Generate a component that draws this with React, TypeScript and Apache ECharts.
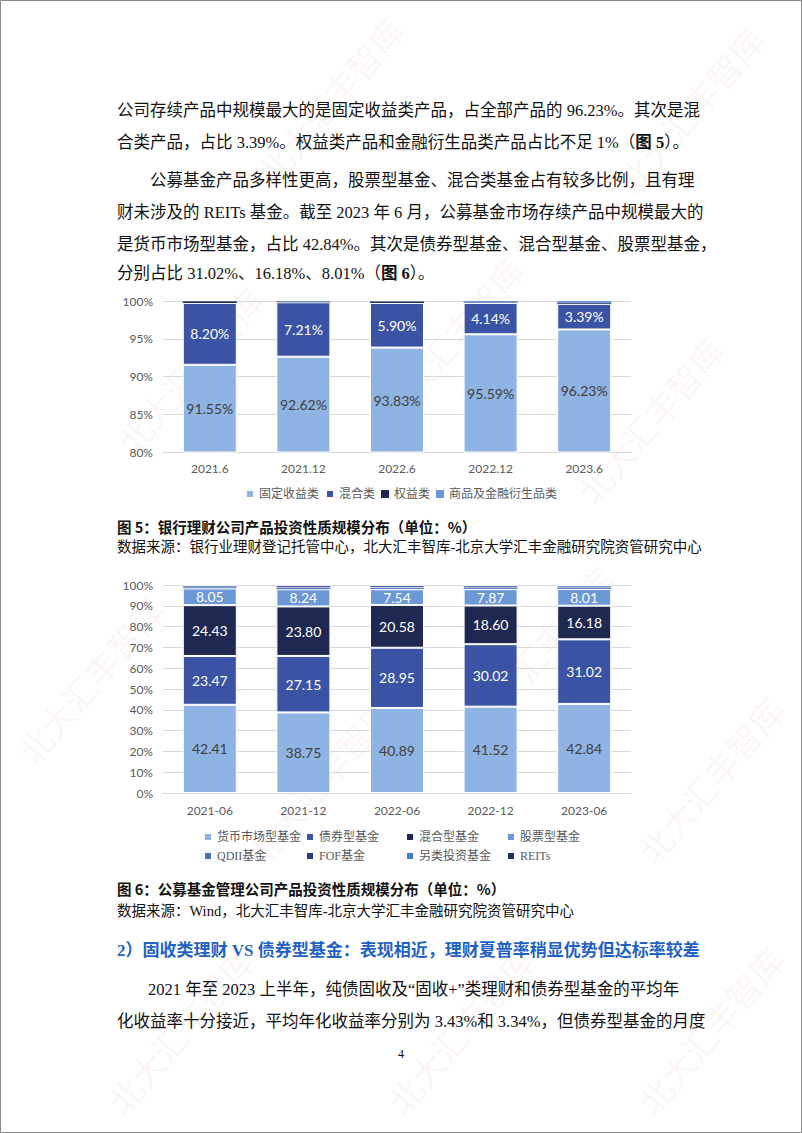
import React, { useEffect, useRef } from 'react';
import * as echarts from 'echarts';

// ---------- Chart 1 data (图 5) ----------
const categories1 = ['2021.6', '2021.12', '2022.6', '2022.12', '2023.6'];
const fixedIncome = [91.55, 92.62, 93.83, 95.59, 96.23];
const mixed1 = [8.2, 7.21, 5.9, 4.14, 3.39];
const equity1 = [0.22, 0.12, 0.22, 0.08, 0.1];
const commodity1 = [0.03, 0.05, 0.05, 0.19, 0.28];
const yTicks1 = [80, 85, 90, 95, 100];

// ---------- Chart 2 data (图 6) ----------
const categories2 = ['2021-06', '2021-12', '2022-06', '2022-12', '2023-06'];
const moneyMarket = [42.41, 38.75, 40.89, 41.52, 42.84];
const bond = [23.47, 27.15, 28.95, 30.02, 31.02];
const hybrid = [24.43, 23.8, 20.58, 18.6, 16.18];
const stock = [8.05, 8.24, 7.54, 7.87, 8.01];
const qdii = [0.77, 0.93, 0.96, 0.95, 0.98];
const fof = [0.62, 0.83, 0.74, 0.67, 0.61];
const alternative = [0.12, 0.15, 0.14, 0.14, 0.13];
const reits = [0.13, 0.15, 0.2, 0.23, 0.23];
const yTicks2 = [0, 10, 20, 30, 40, 50, 60, 70, 80, 90, 100];

const names1 = ['固定收益类', '混合类', '权益类', '商品及金融衍生品类'];
const names2 = ['货币市场型基金', '债券型基金', '混合型基金', '股票型基金', 'QDII基金', 'FOF基金', '另类投资基金', 'REITs'];

const bodyLines = [
  { x: 117, y: 110, t: '公司存续产品中规模最大的是固定收益类产品，占全部产品的 96.23%。其次是混' },
  { x: 117, y: 142, t: '合类产品，占比 3.39%。权益类产品和金融衍生品类产品占比不足 1%（{b|图 5}）。' },
  { x: 150, y: 180, t: '公募基金产品多样性更高，股票型基金、混合类基金占有较多比例，且有理' },
  { x: 117, y: 212, t: '财未涉及的 REITs 基金。截至 2023 年 6 月，公募基金市场存续产品中规模最大的' },
  { x: 117, y: 244, t: '是货币市场型基金，占比 42.84%。其次是债券型基金、混合型基金、股票型基金，' },
  { x: 117, y: 273, t: '分别占比 31.02%、16.18%、8.01%（{b|图 6}）。' },
  { x: 148, y: 989, t: '2021 年至 2023 上半年，纯债固收及“固收+”类理财和债券型基金的平均年' },
  { x: 117, y: 1021, t: '化收益率十分接近，平均年化收益率分别为 3.43%和 3.34%，但债券型基金的月度' },
];

const watermarks = [
  [330, 100], [690, 110], [190, 370], [450, 340], [650, 420], [90, 680],
  [320, 780], [540, 650], [710, 780], [180, 1030], [460, 1030], [710, 1030],
];

const SERIF = "'Liberation Serif','Noto Sans CJK SC',serif";
const CJK = "'Noto Sans CJK SC',sans-serif";
const NUM = "Lato,'Noto Sans CJK SC',sans-serif";

export default function App() {
  const ref = useRef<HTMLDivElement>(null);
  useEffect(() => {
    const chart = echarts.init(ref.current!, null, { renderer: 'svg' });

    const c1 = ['#8FB3E2', '#3A53A4', '#1F2753', '#6D98D8'];
    const c2 = ['#8FB3E2', '#3A53A4', '#1E2850', '#6D98D8', '#4A72BC', '#2A3C86', '#3D7CCB', '#1F2E63'];
    const data1 = [fixedIncome, mixed1, equity1, commodity1];
    const data2 = [moneyMarket, bond, hybrid, stock, qdii, fof, alternative, reits];

    const series1 = names1.map((n, i) => ({
      name: n,
      type: 'bar',
      stack: 's1',
      xAxisIndex: 0,
      yAxisIndex: 0,
      barWidth: 54,
      data: data1[i],
      itemStyle: { color: c1[i], borderColor: '#fff', borderWidth: i < 2 ? 1 : 0 },
      label: {
        show: i < 2,
        position: 'inside',
        formatter: (p: any) => p.value.toFixed(2) + '%',
        color: i === 0 ? '#404040' : '#fff',
        fontSize: 14,
        fontFamily: NUM,
      },
    }));

    const series2 = names2.map((n, i) => ({
      name: n,
      type: 'bar',
      stack: 's2',
      xAxisIndex: 1,
      yAxisIndex: 1,
      barWidth: 54,
      data: data2[i],
      itemStyle: { color: c2[i], borderColor: '#fff', borderWidth: i < 4 ? 1 : 0.3 },
      label: {
        show: i < 4,
        position: 'inside',
        formatter: (p: any) => p.value.toFixed(2),
        color: i === 0 ? '#404040' : '#fff',
        fontSize: 14,
        fontFamily: NUM,
      },
    }));

    const legend2Pos = [
      [203, 831], [305, 831], [405, 831], [506, 831],
      [203, 850], [305, 850], [405, 850], [506, 850],
    ];
    const legends2 = names2.map((n, i) => ({
      data: [n],
      left: legend2Pos[i][0],
      top: legend2Pos[i][1],
      itemWidth: 8,
      itemHeight: 8,
      icon: 'rect',
      padding: 0,
      textStyle: { fontSize: 12, color: '#595959', fontFamily: SERIF },
      selectedMode: false,
    }));

    const graphics: any[] = [];
    graphics.push({
      type: 'rect',
      shape: { x: 0.5, y: 0.5, width: 801, height: 1132 },
      style: { fill: 'none', stroke: '#8a8a8a', lineWidth: 1 },
      silent: true,
    });
    watermarks.forEach(([x, y]) => {
      graphics.push({
        type: 'text',
        x,
        y,
        rotation: 0.87,
        silent: true,
        style: {
          text: '北大汇丰智库',
          fill: 'rgba(200,110,110,0.07)',
          fontSize: 34,
          fontFamily: CJK,
          textAlign: 'center',
          textVerticalAlign: 'middle',
        },
      });
    });
    bodyLines.forEach((l) => {
      graphics.push({
        type: 'text',
        x: l.x,
        y: l.y,
        style: {
          text: l.t,
          fill: '#111',
          fontSize: 16.5,
          fontFamily: SERIF,
          textAlign: 'left',
          textVerticalAlign: 'middle',
          rich: { b: { fontWeight: 'bold', fontSize: 16.5, fontFamily: SERIF, fill: '#111' } },
        },
      });
    });
    const captions = [
      { y: 526, t: '图 5：银行理财公司产品投资性质规模分布（单位：%）', bold: true },
      { y: 547, t: '数据来源：银行业理财登记托管中心，北大汇丰智库-北京大学汇丰金融研究院资管研究中心', bold: false },
      { y: 888, t: '图 6：公募基金管理公司产品投资性质规模分布（单位：%）', bold: true },
      { y: 911, t: '数据来源：Wind，北大汇丰智库-北京大学汇丰金融研究院资管研究中心', bold: false },
    ];
    captions.forEach((c) => {
      graphics.push({
        type: 'text',
        x: 117,
        y: c.y,
        style: {
          text: c.t,
          fill: '#111',
          fontSize: 14.5,
          fontWeight: c.bold ? 'bold' : 'normal',
          fontFamily: c.bold ? CJK : SERIF,
          textAlign: 'left',
          textVerticalAlign: 'middle',
        },
      });
    });
    graphics.push({
      type: 'text',
      x: 117,
      y: 950,
      style: {
        text: '2）固收类理财 VS 债券型基金：表现相近，理财夏普率稍显优势但达标率较差',
        fill: '#1F62C4',
        fontSize: 17,
        fontWeight: 'bold',
        fontFamily: SERIF,
        textAlign: 'left',
        textVerticalAlign: 'middle',
      },
    });
    graphics.push({
      type: 'text',
      x: 401,
      y: 1054,
      style: { text: '4', fill: '#111', fontSize: 12, fontFamily: SERIF, textAlign: 'center', textVerticalAlign: 'middle' },
    });

    const axisLabelStyle = { color: '#595959', fontSize: 12, fontFamily: NUM };

    chart.setOption({
      animation: false,
      backgroundColor: '#fff',
      grid: [
        { left: 163, right: 171, top: 301, bottom: 1133 - 452 },
        { left: 163, right: 171, top: 585, bottom: 1133 - 793 },
      ],
      xAxis: [
        {
          type: 'category', gridIndex: 0, data: categories1,
          axisLine: { lineStyle: { color: '#D9D9D9' } }, axisTick: { show: false },
          axisLabel: { ...axisLabelStyle, margin: 10 },
        },
        {
          type: 'category', gridIndex: 1, data: categories2,
          axisLine: { lineStyle: { color: '#D9D9D9' } }, axisTick: { show: false },
          axisLabel: { ...axisLabelStyle, margin: 11 },
        },
      ],
      yAxis: [
        {
          type: 'value', gridIndex: 0, min: yTicks1[0], max: yTicks1[yTicks1.length - 1], interval: 5,
          axisLabel: { ...axisLabelStyle, formatter: '{value}%', margin: 10 },
          splitLine: { lineStyle: { color: '#D9D9D9' } },
          axisLine: { show: false }, axisTick: { show: false },
        },
        {
          type: 'value', gridIndex: 1, min: yTicks2[0], max: yTicks2[yTicks2.length - 1], interval: 10,
          axisLabel: { ...axisLabelStyle, formatter: '{value}%', margin: 10 },
          splitLine: { lineStyle: { color: '#D9D9D9' } },
          axisLine: { show: false }, axisTick: { show: false },
        },
      ],
      legend: [
        {
          data: names1,
          left: 'center',
          top: 488,
          itemWidth: 8,
          itemHeight: 8,
          itemGap: 6,
          icon: 'rect',
          padding: 0,
          textStyle: { fontSize: 12, color: '#595959', fontFamily: SERIF },
          selectedMode: false,
        },
        ...legends2,
      ],
      color: [...c1, ...c2],
      series: [...series1, ...series2],
      graphic: { elements: graphics },
    });
    return () => chart.dispose();
  }, []);
  return (
    <div
      ref={ref}
      style={{ position: 'absolute', left: 0, top: 0, width: 802, height: 1133, background: '#fff' }}
    />
  );
}
